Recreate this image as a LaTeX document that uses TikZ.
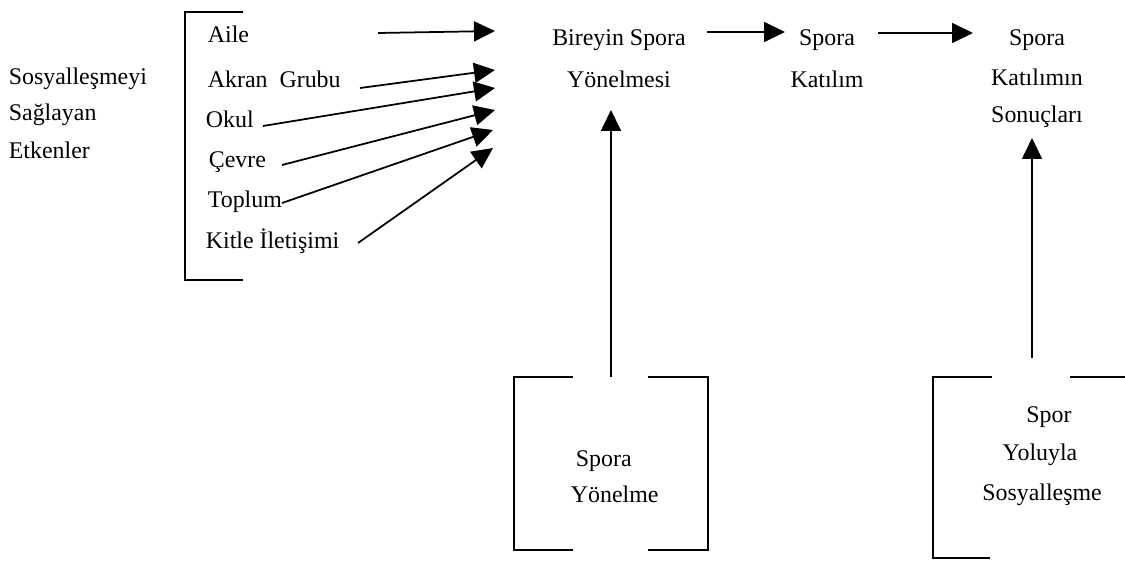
\documentclass[tikz,border=0pt]{standalone}
\usepackage{fontspec}
\setmainfont{Liberation Serif}
\usetikzlibrary{arrows.meta,positioning}

\begin{document}
\begin{tikzpicture}[x=0.02cm,y=-0.02cm,>={Triangle[length=0.42cm,width=0.4cm]},
    font=\fontsize{13.6}{16}\selectfont,line width=1pt,
    lbl/.style={anchor=base west,inner sep=0pt},
    ctr/.style={anchor=base,inner sep=0pt}]
  \useasboundingbox (0,0) rectangle (1125,568);
  % left bracket and factors
  \draw (243,12) -- (185,12) -- (185,280) -- (243,280);
  \node[lbl] (sos) at (8,84) {Sosyalleşmeyi};
  \node[lbl] (sag) at (8,120) {Sağlayan};
  \node[lbl] (etk) at (8,158) {Etkenler};
  \node[lbl] (aile) at (207,42) {Aile};
  \node[lbl] (akran) at (207,87) {Akran\ \ Grubu};
  \node[lbl] (okul) at (205,127) {Okul};
  \node[lbl] (cevre) at (208,167) {Çevre};
  \node[lbl] (toplum) at (207,207) {Toplum};
  \node[lbl] (kitle) at (205,248) {Kitle İletişimi};
  % main chain
  \node[ctr] (bir) at (619,45) {Bireyin Spora};
  \node[ctr] (yon) at (619,87) {Yönelmesi};
  \node[ctr] (spk) at (827,45) {Spora};
  \node[ctr] (kat) at (827,87) {Katılım};
  \node[ctr] (sps) at (1037,45) {Spora};
  \node[ctr] (katn) at (1037,85) {Katılımın};
  \node[ctr] (son) at (1037,122) {Sonuçları};
  % lower boxes
  \draw (573,377) -- (514,377) -- (514,550) -- (573,550);
  \draw (648,377) -- (708,377) -- (708,550) -- (648,550);
  \node[lbl] (sy1) at (575,466) {Spora};
  \node[lbl] (sy2) at (570,502) {Yönelme};
  \draw (992,377) -- (933,377) -- (933,558) -- (990,558);
  \draw (1070,377) -- (1125,377);
  \node[ctr] (ss1) at (1049,422) {Spor};
  \node[ctr] (ss2) at (1040,460) {Yoluyla};
  \node[ctr] (ss3) at (1042,500) {Sosyalleşme};
  % arrow ends
  \coordinate (aileS) at (378,33);   \coordinate (aileE) at (495,31);
  \coordinate (akranS) at (360,88);  \coordinate (akranE) at (495,70);
  \coordinate (okulS) at (263,126);  \coordinate (okulE) at (495,88);
  \coordinate (cevreS) at (282,165); \coordinate (cevreE) at (495,110);
  \coordinate (toplumS) at (282,203);\coordinate (toplumE) at (493,130);
  \coordinate (kitleS) at (358,243); \coordinate (kitleE) at (493,148);
  \coordinate (birE) at (707,32);    \coordinate (spkW) at (785,32);
  \coordinate (spkE) at (878,33);    \coordinate (spsW) at (973,33);
  \coordinate (boxA) at (611,377);   \coordinate (yonS) at (611,110);
  \coordinate (boxB) at (1032,358);  \coordinate (sonS) at (1032,138);
  \draw[->] (aileS) -- (aileE);
  \draw[->] (akranS) -- (akranE);
  \draw[->] (okulS) -- (okulE);
  \draw[->] (cevreS) -- (cevreE);
  \draw[->] (toplumS) -- (toplumE);
  \draw[->] (kitleS) -- (kitleE);
  \draw[->] (birE) -- (spkW);
  \draw[->] (spkE) -- (spsW);
  \draw[->] (boxA) -- (yonS);
  \draw[->] (boxB) -- (sonS);
\end{tikzpicture}
\end{document}
